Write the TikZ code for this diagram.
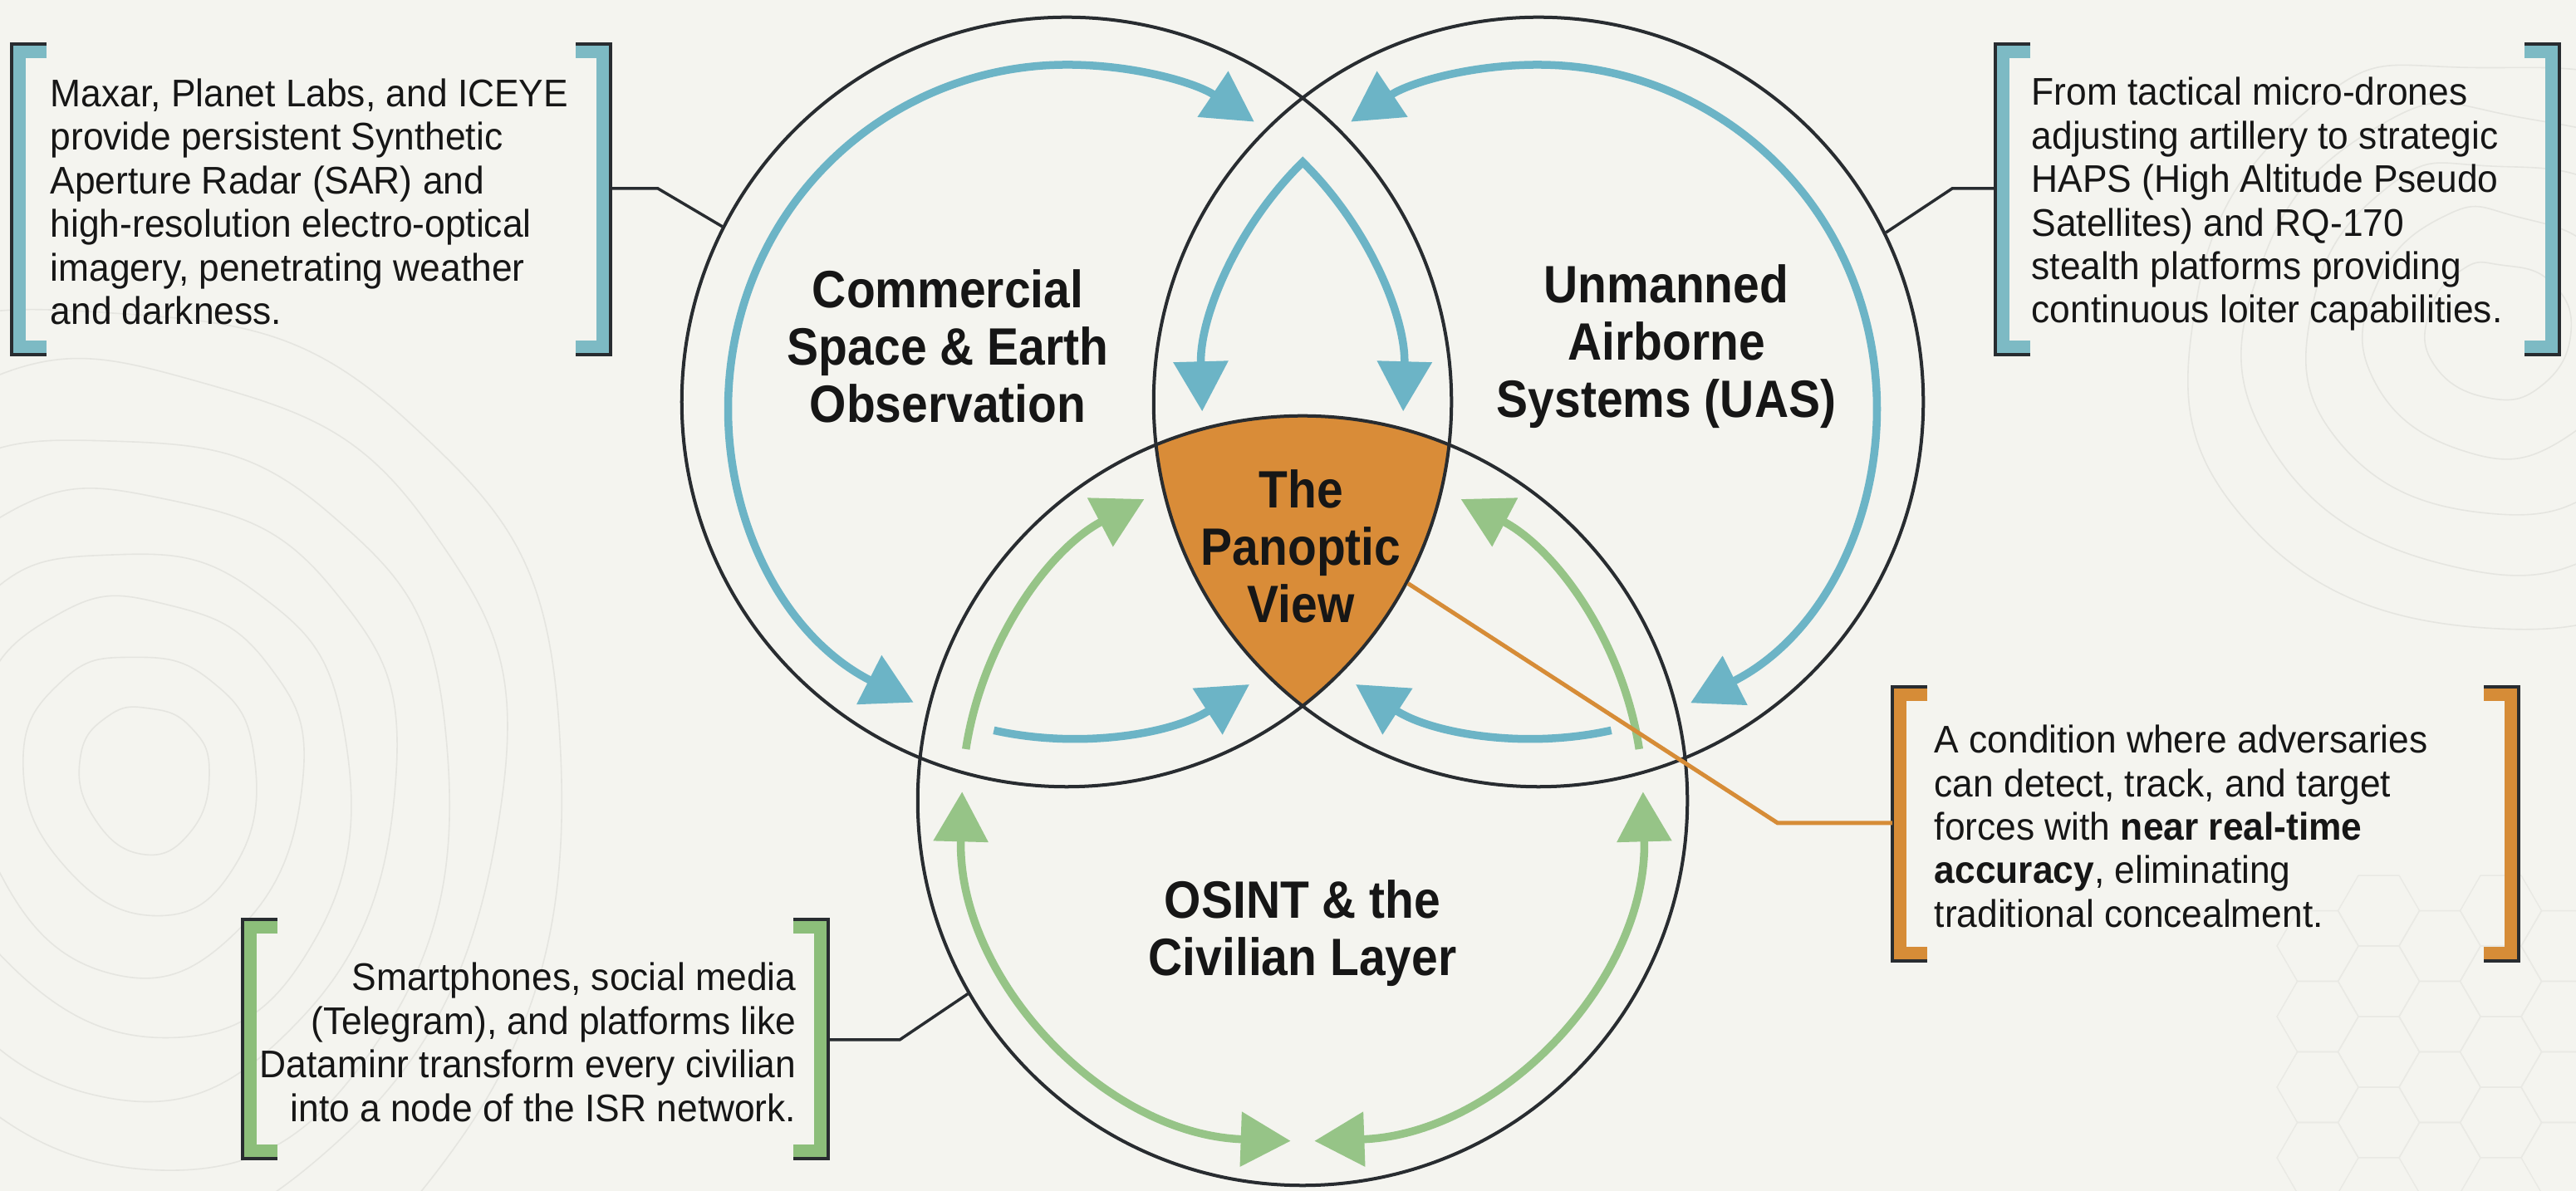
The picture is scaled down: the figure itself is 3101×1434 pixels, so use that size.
\documentclass[tikz,border=0pt]{standalone}
\usepackage{fontspec}
\setmainfont{Liberation Sans}
\newfontfamily\bodyfont[FakeStretch=0.955]{Liberation Sans}
\newfontfamily\titlefont[FakeStretch=0.9]{Liberation Sans}
\usetikzlibrary{arrows.meta}
\definecolor{bg}{RGB}{244,244,239}
\definecolor{topoc}{RGB}{229,229,224}
\definecolor{hexc}{RGB}{233,233,228}
\definecolor{ink}{RGB}{40,44,48}
\definecolor{bblue}{RGB}{108,180,198}
\definecolor{bgreen}{RGB}{150,196,135}
\definecolor{porange}{RGB}{217,140,56}
\definecolor{kblue}{RGB}{125,186,196}
\definecolor{kgreen}{RGB}{140,190,122}
\definecolor{korange}{RGB}{214,140,55}
\definecolor{txt}{RGB}{22,22,22}
\newcommand{\brkpair}[5]{%
  \draw[#5, line width=0.17cm, line join=miter, line cap=butt]
    ({#1+42},{#3-8.5}) -- ({#1+8.5},{#3-8.5}) -- ({#1+8.5},{#4+8.5}) -- ({#1+42},{#4+8.5});
  \draw[ink, line width=0.04cm] ({#1+42},#3) -- (#1,#3) -- (#1,#4) -- ({#1+42},#4);
  \draw[#5, line width=0.17cm, line join=miter, line cap=butt]
    ({#2-42},{#3-8.5}) -- ({#2-8.5},{#3-8.5}) -- ({#2-8.5},{#4+8.5}) -- ({#2-42},{#4+8.5});
  \draw[ink, line width=0.04cm] ({#2-42},#3) -- (#2,#3) -- (#2,#4) -- ({#2-42},#4);
}
\tikzset{
  bigtri/.tip={Triangle[length=0.6cm,width=0.64cm]},
  venn/.style={circle, draw=ink, line width=0.04cm, minimum size=9.26cm, inner sep=0pt},
  blu/.style={draw=bblue, line width=0.095cm},
  grn/.style={draw=bgreen, line width=0.095cm},
  ttl/.style={font=\titlefont\fontsize{18pt}{19.6pt}\selectfont\bfseries, text=txt, align=center, inner sep=0pt},
  body/.style={font=\bodyfont\fontsize{13.2pt}{14.9pt}\selectfont, text=txt, align=left, inner sep=0pt},
  conn/.style={draw=ink, line width=0.035cm},
  oconn/.style={draw=korange, line width=0.05cm},
  topo/.style={draw=topoc, line width=0.016cm},
  hexl/.style={draw=hexc, line width=0.014cm},
}
\begin{document}
\begin{tikzpicture}[x=0.01cm, y=0.01cm]
\useasboundingbox (0,0) rectangle (3101,1434);
\fill[bg] (0,0) rectangle (3101,1434);

% faint background texture
\begin{scope}
  \clip (0,0) rectangle (3101,1434);
  \foreach \s/\r in {0.45/0, 0.8/8, 1.15/-6, 1.5/10, 1.85/-4, 2.25/6, 2.65/-8, 3.1/4}
    \draw[topo, shift={(180,500)}, rotate=\r, scale=\s]
      plot[smooth cycle, tension=0.8] coordinates {(0,180) (110,130) (160,10) (110,-150) (-20,-210) (-150,-110) (-185,50) (-110,160)};
  \foreach \s/\r in {0.5/0, 0.9/-7, 1.3/5, 1.7/-3, 2.1/7}
    \draw[topo, shift={(3010,1040)}, rotate=\r, scale=\s]
      plot[smooth cycle, tension=0.8] coordinates {(0,150) (120,110) (170,-10) (100,-140) (-30,-170) (-160,-90) (-170,40) (-90,140)};
  \foreach \i in {0,...,5}
    \foreach \j in {0,...,3}
      \draw[hexl, shift={({2790+73.5*\i},{40+85*\j+42.5*mod(\i,2)})}]
        (0:49) -- (60:49) -- (120:49) -- (180:49) -- (240:49) -- (300:49) -- cycle;
\end{scope}

\coordinate (cL) at (1284,950);
\coordinate (cR) at (1852,950);
\coordinate (cB) at (1568,470);

% panoptic region
\begin{scope}
  \clip (cL) circle[radius=463];
  \clip (cR) circle[radius=463];
  \fill[porange] (cB) circle[radius=463];
\end{scope}

% blue arcs
\draw[blu, bigtri-bigtri] ([shift={(243:406)}]cL) arc[start angle=243, end angle=56.2, radius=406];
\draw[blu, bigtri-bigtri] ([shift={(-63.2:406)}]cR) arc[start angle=-63.2, end angle=123.8, radius=406];
\draw[blu, bigtri-bigtri, line join=miter] ([shift={(181.6:405)}]cR) arc[start angle=181.6, end angle=134.5, radius=405] arc[start angle=45.5, end angle=-1.6, radius=405];
\draw[blu, -bigtri] ([shift={(257.5:405)}]cL) arc[start angle=257.5, end angle=302.9, radius=405];
\draw[blu, -bigtri] ([shift={(-77.5:405)}]cR) arc[start angle=-77.5, end angle=-122.9, radius=405];

% green arcs
\draw[grn, bigtri-bigtri] ([shift={(178.5:410)}]cB) arc[start angle=178.5, end angle=268, radius=410];
\draw[grn, bigtri-bigtri] ([shift={(1.5:410)}]cB) arc[start angle=1.5, end angle=-88, radius=410];
\draw[grn, -bigtri] ([shift={(171.3:410)}]cB) arc[start angle=171.3, end angle=117.7, radius=410];
\draw[grn, -bigtri] ([shift={(8.7:410)}]cB) arc[start angle=8.7, end angle=62.3, radius=410];

% circles
\node[venn] (L) at (cL) {};
\node[venn] (R) at (cR) {};
\node[venn] (B) at (cB) {};

% titles
\node[ttl] (tL) at (1141,1017) {Commercial\\Space \& Earth\\Observation};
\node[ttl] (tR) at (2006,1017) {Unmanned\\Airborne\\Systems (UAS)};
\node[ttl] (P) at (1566,776) {The\\Panoptic\\View};
\node[ttl] (tB) at (1568,310) {OSINT \& the\\Civilian Layer};

% brackets
\brkpair{14}{735}{1381}{1007}{kblue}
\brkpair{2402}{3081}{1381}{1007}{kblue}
\brkpair{2278}{3032}{607}{277}{korange}
\brkpair{292}{997}{327}{39}{kgreen}

% descriptions
\node[body, anchor=west] (d1) at (60,1191) {Maxar, Planet Labs, and ICEYE\\provide persistent Synthetic\\Aperture Radar (SAR) and\\high-resolution electro-optical\\imagery, penetrating weather\\and darkness.};
\node[body, anchor=west] (d2) at (2445,1188) {From tactical micro-drones\\adjusting artillery to strategic\\HAPS (High Altitude Pseudo\\Satellites) and RQ-170\\stealth platforms providing\\continuous loiter capabilities.};
\node[body, anchor=west] (d3) at (2328,439) {A condition where adversaries\\can detect, track, and target\\forces with \textbf{near real-time}\\\textbf{accuracy}, eliminating\\traditional concealment.};
\node[body, anchor=east, align=right] (d4) at (959,179) {Smartphones, social media\\(Telegram), and platforms like\\Dataminr transform every civilian\\into a node of the ISR network.};

% connectors
\coordinate (k1) at (735,1207);
\coordinate (k2) at (2402,1207);
\coordinate (k3) at (2278,443);
\coordinate (k4) at (997,182);
\draw[conn] (k1) -- (792,1207) -- (L.153.5);
\draw[conn] (k2) -- (2350,1207) -- (R.26.5);
\draw[conn] (k4) -- (1083,182) -- (B.210);
\draw[oconn] (L.-28.5) -- (2140,443) -- (k3);
\end{tikzpicture}
\end{document}
